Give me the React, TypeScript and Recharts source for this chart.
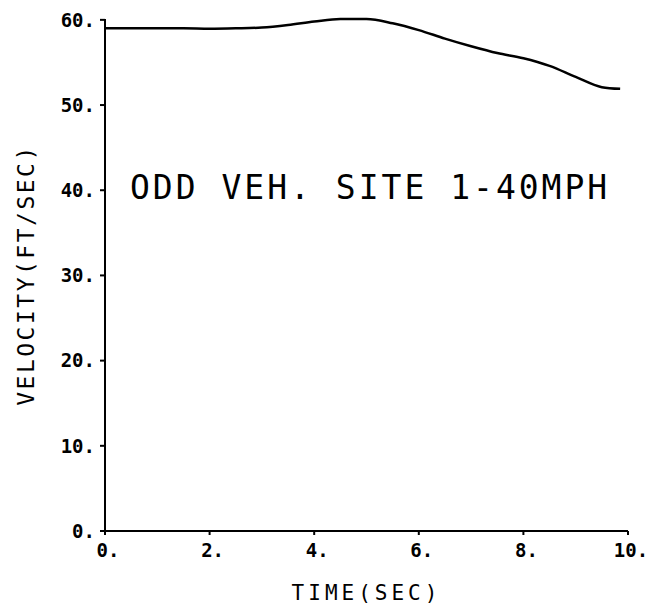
import { LineChart, Line, XAxis, YAxis, Label } from 'recharts';

// Velocity trace (time in sec, velocity in ft/sec)
const TIMES = [0, 0.5, 1, 1.5, 2, 2.5, 3, 3.5, 4, 4.5, 5, 5.5, 6, 6.5, 7, 7.5, 8, 8.5, 9, 9.5, 9.85];
const VELOCITY = [59.0, 59.0, 59.0, 59.0, 58.95, 59.0, 59.1, 59.4, 59.8, 60.1, 60.1, 59.6, 58.8, 57.8, 56.9, 56.1, 55.5, 54.6, 53.3, 52.1, 51.9];

const X_TICKS = [0, 2, 4, 6, 8, 10];
const Y_TICKS = [0, 10, 20, 30, 40, 50, 60];

const TITLE = 'ODD VEH. SITE 1-40MPH';
const X_LABEL = 'TIME(SEC)';
const Y_LABEL = 'VELOCITY(FT/SEC)';

const FONT = '"DejaVu Sans Mono", "Liberation Mono", monospace';

const data = TIMES.map((t, i) => ({ t, v: VELOCITY[i] }));

export default function App() {
    return (
        <div style={{ position: 'absolute', left: 0, top: 0, width: 661, height: 608, background: '#fff' }}>
            <LineChart
                width={661}
                height={608}
                data={data}
                margin={{ top: 19, right: 33, bottom: 0, left: 0 }}
            >
                <XAxis
                    dataKey="t"
                    type="number"
                    domain={[0, 10]}
                    ticks={X_TICKS}
                    height={77}
                    stroke="#000"
                    strokeWidth={2}
                    tickSize={4}
                    tickMargin={9}
                    tickFormatter={(v) => `${v}.`}
                    tick={{ fill: '#000', fontSize: 19, fontFamily: FONT, fontWeight: 700, dx: 3 }}
                >
                    <Label
                        value={X_LABEL}
                        position="insideBottom"
                        offset={8}
                        style={{ fill: '#000', fontSize: 21, fontFamily: FONT, letterSpacing: 4 }}
                    />
                </XAxis>
                <YAxis
                    type="number"
                    domain={[0, 60]}
                    ticks={Y_TICKS}
                    width={105}
                    stroke="#000"
                    strokeWidth={2}
                    tickSize={5}
                    tickMargin={5}
                    tickFormatter={(v) => `${v}.`}
                    tick={{ fill: '#000', fontSize: 19, fontFamily: FONT, fontWeight: 700 }}
                >
                    <Label
                        value={Y_LABEL}
                        angle={-90}
                        position="insideLeft"
                        offset={26}
                        style={{ textAnchor: 'middle', fill: '#000', fontSize: 23, fontFamily: FONT, letterSpacing: 2.5 }}
                    />
                </YAxis>
                <Line
                    type="monotone"
                    dataKey="v"
                    stroke="#000"
                    strokeWidth={2.5}
                    dot={false}
                    isAnimationActive={false}
                />
            </LineChart>
            <div
                style={{
                    position: 'absolute',
                    left: 130,
                    top: 169,
                    fontFamily: FONT,
                    fontSize: 33,
                    letterSpacing: 3,
                    color: '#000',
                    whiteSpace: 'nowrap',
                    lineHeight: '38px',
                }}
            >
                {TITLE}
            </div>
        </div>
    );
}
